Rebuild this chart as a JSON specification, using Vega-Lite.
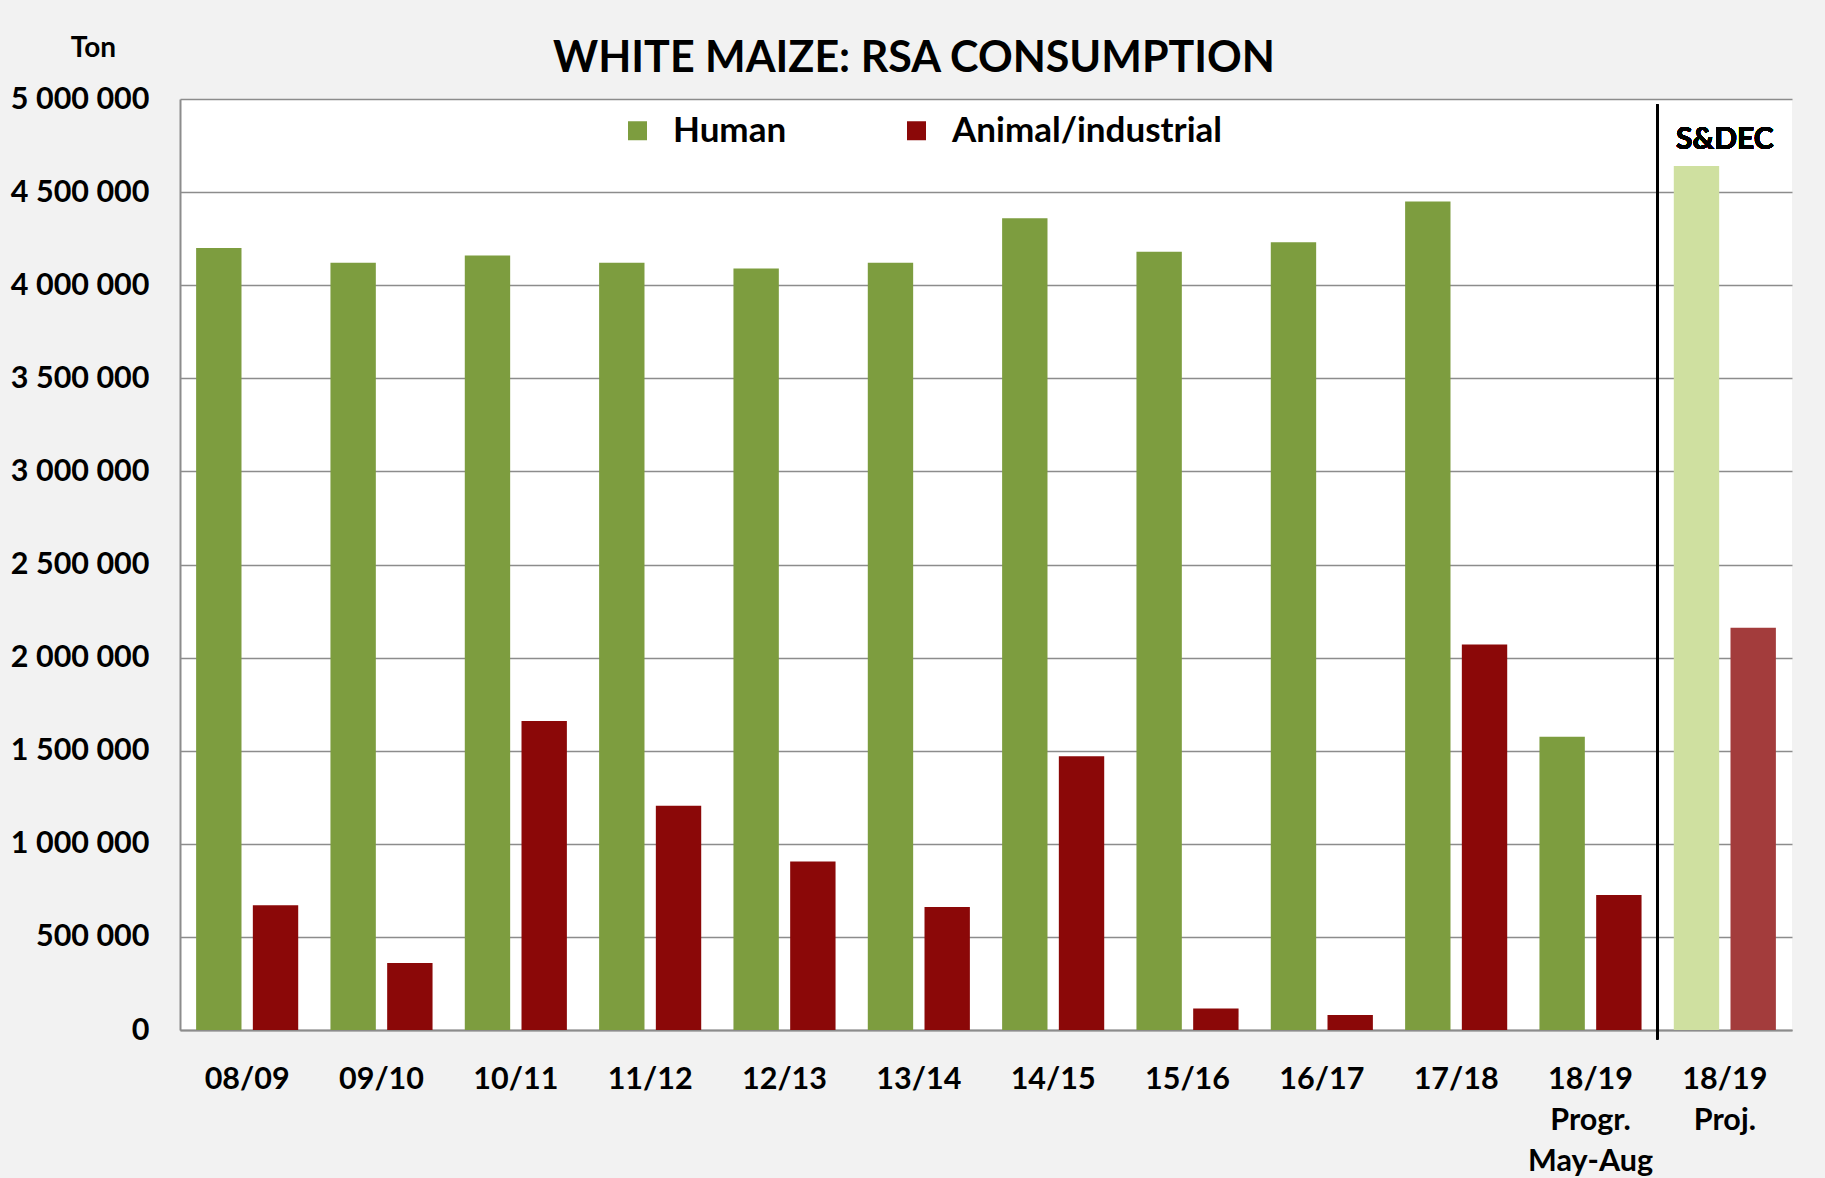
{
  "$schema": "https://vega.github.io/schema/vega-lite/v6.json",
  "width": 1612,
  "height": 931,
  "autosize": {"type": "none"},
  "padding": {"left": 180, "top": 99, "right": 33, "bottom": 148},
  "background": "#f2f2f2",
  "config": {
    "view": {"fill": "white", "stroke": null},
    "font": "Lato"
  },
  "title": {
    "text": "WHITE MAIZE: RSA CONSUMPTION",
    "font": "Lato",
    "fontSize": 43,
    "fontWeight": "bold",
    "color": "black",
    "anchor": "middle",
    "dx": -72,
    "dy": 47,
    "offset": 0
  },
  "datasets": {
    "consumption": [
      {"season": "08/09", "series": "Human", "tons": 4200000, "phase": "Actual"},
      {"season": "08/09", "series": "Animal/industrial", "tons": 670000, "phase": "Actual"},
      {"season": "09/10", "series": "Human", "tons": 4120000, "phase": "Actual"},
      {"season": "09/10", "series": "Animal/industrial", "tons": 360000, "phase": "Actual"},
      {"season": "10/11", "series": "Human", "tons": 4160000, "phase": "Actual"},
      {"season": "10/11", "series": "Animal/industrial", "tons": 1660000, "phase": "Actual"},
      {"season": "11/12", "series": "Human", "tons": 4120000, "phase": "Actual"},
      {"season": "11/12", "series": "Animal/industrial", "tons": 1205000, "phase": "Actual"},
      {"season": "12/13", "series": "Human", "tons": 4090000, "phase": "Actual"},
      {"season": "12/13", "series": "Animal/industrial", "tons": 905000, "phase": "Actual"},
      {"season": "13/14", "series": "Human", "tons": 4120000, "phase": "Actual"},
      {"season": "13/14", "series": "Animal/industrial", "tons": 660000, "phase": "Actual"},
      {"season": "14/15", "series": "Human", "tons": 4360000, "phase": "Actual"},
      {"season": "14/15", "series": "Animal/industrial", "tons": 1470000, "phase": "Actual"},
      {"season": "15/16", "series": "Human", "tons": 4180000, "phase": "Actual"},
      {"season": "15/16", "series": "Animal/industrial", "tons": 115000, "phase": "Actual"},
      {"season": "16/17", "series": "Human", "tons": 4230000, "phase": "Actual"},
      {"season": "16/17", "series": "Animal/industrial", "tons": 80000, "phase": "Actual"},
      {"season": "17/18", "series": "Human", "tons": 4450000, "phase": "Actual"},
      {"season": "17/18", "series": "Animal/industrial", "tons": 2070000, "phase": "Actual"},
      {"season": "18/19|Progr.|May-Aug", "series": "Human", "tons": 1575000, "phase": "Actual"},
      {"season": "18/19|Progr.|May-Aug", "series": "Animal/industrial", "tons": 725000, "phase": "Actual"},
      {"season": "18/19|Proj.", "series": "Human", "tons": 4640000, "phase": "Projection"},
      {"season": "18/19|Proj.", "series": "Animal/industrial", "tons": 2160000, "phase": "Projection"}
    ]
  },
  "data": {"name": "consumption"},
  "layer": [
    {
      "transform": [{"filter": "datum.phase == 'Actual'"}],
      "mark": {"type": "bar"},
      "encoding": {
        "x": {
          "field": "season",
          "type": "nominal",
          "sort": ["08/09", "09/10", "10/11", "11/12", "12/13", "13/14", "14/15", "15/16", "16/17", "17/18", "18/19|Progr.|May-Aug", "18/19|Proj."],
          "scale": {"paddingInner": 0.24, "paddingOuter": 0.12},
          "axis": {
            "title": null,
            "labelExpr": "split(datum.label, '|')",
            "labelAngle": 0,
            "labelFont": "Lato",
            "labelFontSize": 30.5,
            "labelFontWeight": "bold",
            "labelColor": "black",
            "labelBaseline": "top",
            "labelLineHeight": 41,
            "labelPadding": 34,
            "ticks": false,
            "domainColor": "#8c8c8c",
            "domainWidth": 2
          }
        },
        "xOffset": {
          "field": "series",
          "type": "nominal",
          "sort": ["Human", "Animal/industrial"],
          "scale": {"paddingInner": 0.2}
        },
        "y": {
          "field": "tons",
          "type": "quantitative",
          "scale": {"domain": [0, 5000000]},
          "axis": {
            "title": "Ton",
            "titleAngle": 0,
            "titleX": -87,
            "titleY": -51,
            "titleAlign": "center",
            "titleBaseline": "middle",
            "titleFont": "Lato",
            "titleFontSize": 28,
            "titleFontWeight": "bold",
            "titleColor": "black",
            "values": [0, 500000, 1000000, 1500000, 2000000, 2500000, 3000000, 3500000, 4000000, 4500000, 5000000],
            "labelExpr": "replace(format(datum.value, ',.0f'), /,/g, ' ')",
            "labelFont": "Lato",
            "labelFontSize": 30.5,
            "labelFontWeight": "bold",
            "labelColor": "black",
            "labelPadding": 31,
            "ticks": false,
            "gridColor": "#8c8c8c",
            "gridWidth": 1.5,
            "domainColor": "#8c8c8c",
            "domainWidth": 2
          }
        },
        "color": {
          "field": "series",
          "type": "nominal",
          "scale": {"domain": ["Human", "Animal/industrial"], "range": ["#7d9d3f", "#8b0808"]},
          "legend": {
            "orient": "none",
            "legendX": 440,
            "legendY": 14,
            "direction": "horizontal",
            "title": null,
            "symbolType": "square",
            "symbolSize": 361,
            "symbolStrokeWidth": 0,
            "labelFont": "Lato",
            "labelFontSize": 35,
            "labelFontWeight": "bold",
            "labelColor": "black",
            "labelLimit": 0,
            "labelOffset": 18,
            "columnPadding": 112
          }
        }
      }
    },
    {
      "transform": [{"filter": "datum.phase == 'Projection'"}],
      "mark": {"type": "bar"},
      "encoding": {
        "x": {"field": "season", "type": "nominal", "sort": ["08/09", "09/10", "10/11", "11/12", "12/13", "13/14", "14/15", "15/16", "16/17", "17/18", "18/19|Progr.|May-Aug", "18/19|Proj."]},
        "xOffset": {"field": "series", "type": "nominal", "sort": ["Human", "Animal/industrial"]},
        "y": {"field": "tons", "type": "quantitative"},
        "color": {
          "field": "series",
          "type": "nominal",
          "scale": {"domain": ["Human", "Animal/industrial"], "range": ["#cfe0a0", "#a33c3c"]},
          "legend": null
        }
      }
    },
    {
      "mark": {"type": "rule", "color": "black", "strokeWidth": 1.5},
      "encoding": {
        "x": {"datum": "18/19|Proj.", "type": "nominal", "bandPosition": -0.16},
        "y": {"datum": 4970000, "type": "quantitative"},
        "y2": {"datum": -50000}
      }
    },
    {
      "mark": {"type": "text", "font": "Lato", "fontSize": 30, "fontWeight": "bold", "color": "black", "baseline": "middle"},
      "encoding": {
        "x": {"datum": "18/19|Proj.", "type": "nominal"},
        "y": {"datum": 4780000, "type": "quantitative"},
        "text": {"value": "S&DEC"}
      }
    }
  ],
  "resolve": {"scale": {"color": "independent"}}
}
